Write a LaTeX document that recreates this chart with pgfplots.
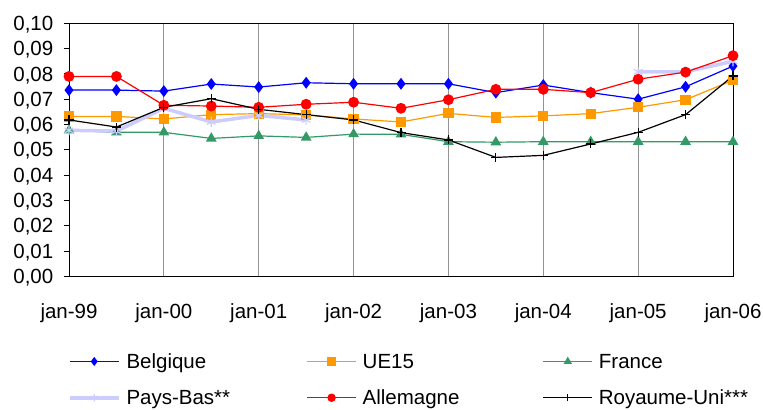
\documentclass[border=0pt]{standalone}
\usepackage{pgfplots}
\pgfplotsset{compat=1.18}
\usepackage{fontspec}
\setmainfont{Liberation Sans}

\definecolor{cBel}{RGB}{0,0,255}
\definecolor{cUE}{RGB}{255,153,0}
\definecolor{cFra}{RGB}{51,153,102}
\definecolor{cPB}{RGB}{204,204,255}
\definecolor{cAll}{RGB}{255,0,0}
\definecolor{cRU}{RGB}{0,0,0}

% semi-annual observations, x = half-years since jan-99
\pgfplotstableread{
x  bel    ue     fra    pb     all    ru
0  0.0736 0.0632 0.0577 0.0577 0.0790 0.0618
1  0.0736 0.0632 0.0569 0.0574 0.0790 0.0590
2  0.0732 0.0622 0.0569 0.0664 0.0676 0.0668
3  0.0760 0.0639 0.0545 0.0610 0.0673 0.0702
4  0.0748 0.0643 0.0555 0.0636 0.0668 0.0660
5  0.0765 0.0638 0.0549 0.0618 0.0680 0.0639
6  0.0761 0.0622 0.0562 nan    0.0688 0.0618
7  0.0761 0.0610 0.0561 nan    0.0664 0.0568
8  0.0761 0.0644 0.0532 nan    0.0698 0.0539
9  0.0726 0.0628 0.0530 nan    0.0739 0.0470
10 0.0756 0.0634 0.0532 nan    0.0739 0.0478
11 0.0726 0.0643 0.0532 nan    0.0726 0.0523
12 0.0700 0.0668 0.0532 0.0808 0.0779 0.0569
13 0.0749 0.0698 0.0532 0.0808 0.0807 0.0639
14 0.0831 0.0775 0.0532 0.0850 0.0872 0.0792
}\rates

\begin{document}
\begin{tikzpicture}
\begin{axis}[
  name=ax,
  scale only axis, width=664bp, height=253bp,
  xmin=0, xmax=14, ymin=0, ymax=0.10,
  xtick={0,2,4,6,8,10,12,14},
  xticklabels={jan-99,jan-00,jan-01,jan-02,jan-03,jan-04,jan-05,jan-06},
  ytick={0,0.01,0.02,0.03,0.04,0.05,0.06,0.07,0.08,0.09,0.10},
  scaled y ticks=false,
  /pgf/number format/assume math mode=true,
  yticklabel style={/pgf/number format/fixed, /pgf/number format/fixed zerofill,
    /pgf/number format/precision=2, /pgf/number format/use comma,
    anchor=east, inner sep=0pt, xshift=-10bp, text height=14.3bp, text depth=0pt},
  xticklabel style={anchor=base, inner sep=0pt, yshift=-37bp},
  tick label style={font=\fontsize{20.5bp}{24bp}\selectfont},
  ytick pos=left, tick align=outside, major tick length=5.5bp,
  xtick style={draw=none},
  ytick style={black, line width=0.9bp},
  xmajorgrids, ymajorgrids=false,
  major grid style={gray!85, line width=0.8bp},
  axis line style={black, line width=1bp},
  unbounded coords=jump,
  legend columns=3,
  legend cell align=left,
  legend image code/.code={\draw[mark repeat=2,mark phase=2] plot coordinates {(0bp,0bp) (24.5bp,0bp) (49bp,0bp)};},
  legend image post style={mark size=3.6bp},
  legend style={at={(rel axis cs:0,0)}, anchor=north west, xshift=-1bp, yshift=-74bp,
    draw=none, fill=none, inner sep=0pt, outer sep=0pt,
    font=\fontsize{20.5bp}{24bp}\selectfont,
    nodes={inner sep=0pt, text height=18.3bp, text depth=4bp},
    row sep=14bp,
    /tikz/every odd column/.append style={column sep=6bp},
    /tikz/every even column/.append style={column sep=0bp}},
]
\addplot[cBel, line width=1.2bp, mark=diamond*, mark size=5bp, mark options={solid}]
  table[x=x, y=bel] {\rates};
\addlegendentry{\makebox[180bp][l]{Belgique}}
\addplot[cUE, line width=1.2bp, mark=square*, mark size=4.5bp, mark options={solid}]
  table[x=x, y=ue] {\rates};
\addlegendentry{\makebox[180bp][l]{UE15}}
\addplot[cFra, line width=1.2bp, mark=triangle*, mark size=5bp, mark options={solid}]
  table[x=x, y=fra] {\rates};
\addlegendentry{\makebox[180bp][l]{France}}
\addplot[cPB, line width=3.5bp, mark=asterisk, mark size=5bp, mark options={solid, line width=1.2bp}]
  table[x=x, y=pb] {\rates};
\addlegendentry{\makebox[180bp][l]{Pays-Bas**}}
\addplot[cAll, line width=1.2bp, mark=*, mark size=4.8bp, mark options={solid}]
  table[x=x, y=all] {\rates};
\addlegendentry{\makebox[180bp][l]{Allemagne}}
\addplot[cRU, line width=1.2bp, mark=+, mark size=4.5bp, mark options={solid, line width=1.2bp}]
  table[x=x, y=ru] {\rates};
\addlegendentry{\makebox[180bp][l]{Royaume-Uni***}}
\end{axis}
\pgfresetboundingbox
\path (ax.south west) ++(-69bp,-133.7bp) rectangle ++(763bp,410bp);
\end{tikzpicture}
\end{document}
